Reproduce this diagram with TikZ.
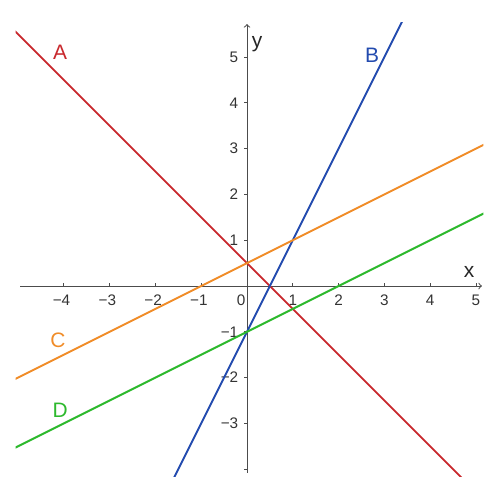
\documentclass[tikz,border=0pt]{standalone}
\usepackage{fontspec}
\setmainfont{Liberation Sans}
\usepackage{xcolor}
\usetikzlibrary{arrows}

\definecolor{lineRed}{RGB}{200,40,45}
\definecolor{lineBlue}{RGB}{35,75,175}
\definecolor{lineOrange}{RGB}{240,140,40}
\definecolor{lineGreen}{RGB}{45,185,45}
\newcommand{\mns}{\char"2212\relax}

\begin{document}
\begin{tikzpicture}[x=1cm, y=1cm,
    axis/.style={draw=black!70, line width=0.6pt, ->, >=to},
    tick/.style={draw=black!70, line width=0.5pt},
    ticklbl/.style={font=\fontsize{9.5}{11}\selectfont, text=black!80, inner sep=1pt},
    axislbl/.style={font=\fontsize{13}{15}\selectfont, text=black!85, inner sep=0pt},
    graph/.style={line width=1.2pt},
    namelbl/.style={font=\fontsize{13}{15}\selectfont, inner sep=0pt}
]
    \useasboundingbox (-5.393,-4.672) rectangle (5.524,6.245);

    % Axes and ticks
    \coordinate (xl) at (-4.95,0);
    \coordinate (xr) at (5.13,0);
    \coordinate (yb) at (0,-4.08);
    \coordinate (yt) at (0,5.72);
    \path [axis] (xl) -- (xr);
    \path [axis] (yb) -- (yt);
    \foreach \i in {-4,...,5} {
        \path [tick] (\i,0) -- (\i,0.07);
        \path [tick] (0,\i) -- (-0.07,\i);
    }
    \foreach \i in {1,...,4}
        \node [ticklbl] (xn\i) at (-\i-0.05,-0.31) {\mns\i};
    \foreach \i in {1,...,5}
        \node [ticklbl] (xp\i) at (\i,-0.31) {\i};
    \foreach \i in {1,...,3}
        \node [ticklbl, anchor=east] (yn\i) at (-0.15,-\i) {\mns\i};
    \foreach \i in {1,...,5}
        \node [ticklbl, anchor=east] (yp\i) at (-0.15,\i) {\i};
    \node [ticklbl] (orig) at (-0.13,-0.31) {0};
    \node [axislbl] (xlbl) at (4.85,0.31) {x};
    \node [axislbl] (ylbl) at (0.22,5.28) {y};

    % Lines
    \begin{scope}
        \clip (-5.05,-4.15) rectangle (5.16,5.75);
        \draw [graph, lineRed] (-5.5,6) -- (5.5,-5);
        \draw [graph, lineBlue] (-2,-5) -- (4,7);
        \draw [graph, lineOrange] (-6,-2.5) -- (6,3.5);
        \draw [graph, lineGreen] (-6,-4) -- (6,2);
    \end{scope}

    \node [namelbl, text=lineRed] (A) at (-4.08,5.11) {A};
    \node [namelbl, text=lineBlue] (B) at (2.73,5.04) {B};
    \node [namelbl, text=lineOrange] (C) at (-4.13,-1.18) {C};
    \node [namelbl, text=lineGreen] (D) at (-4.08,-2.71) {D};
\end{tikzpicture}
\end{document}
